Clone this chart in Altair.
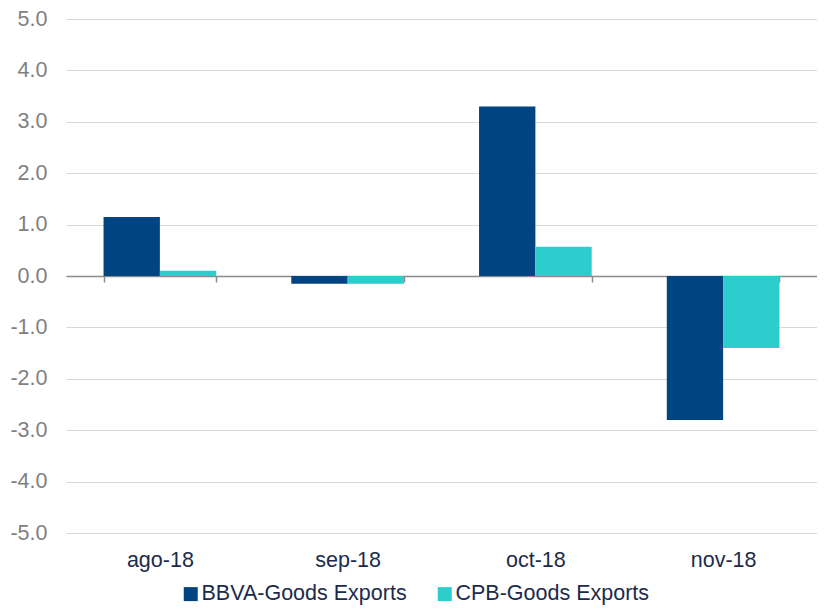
import altair as alt
import pandas as pd

months = ["ago-18", "sep-18", "oct-18", "nov-18"]
series = ["BBVA-Goods Exports", "CPB-Goods Exports"]
bbva = [1.15, -0.15, 3.30, -2.80]
cpb = [0.10, -0.15, 0.57, -1.40]
colors = ["#004481", "#2DCCCD"]
y_ticks = [-5, -4, -3, -2, -1, 0, 1, 2, 3, 4, 5]

rows = []
for m, a, b in zip(months, bbva, cpb):
    rows.append({"month": m, "series": series[0], "value": a})
    rows.append({"month": m, "series": series[1], "value": b})
df = pd.DataFrame(rows)

FONT = "Liberation Sans"
FS = 21.5

bars = alt.Chart(df).mark_bar().encode(
    x=alt.X(
        "month:N",
        sort=months,
        title=None,
        scale=alt.Scale(paddingInner=0.4, paddingOuter=0.2),
        axis=alt.Axis(
            orient="bottom",
            offset=-257,
            domain=True,
            domainColor="#8C8C8C",
            domainWidth=1.5,
            ticks=True,
            tickBand="extent",
            tickColor="#8C8C8C",
            tickWidth=1.5,
            tickSize=6,
            labelAngle=0,
            labelPadding=267,
            labelFont=FONT,
            labelFontSize=FS,
            labelColor="#1C2B4B",
            grid=False,
        ),
    ),
    xOffset=alt.XOffset("series:N", sort=series, scale=alt.Scale(paddingInner=0, paddingOuter=0)),
    y=alt.Y(
        "value:Q",
        title=None,
        scale=alt.Scale(domain=[-5, 5], nice=False, zero=False),
        axis=alt.Axis(
            values=y_ticks,
            domain=False,
            ticks=False,
            grid=True,
            gridColor="#D9D9D9",
            gridWidth=1,
            labelFont=FONT,
            labelFontSize=FS,
            labelColor="#7F7F7F",
            labelPadding=19,
            labelExpr="datum.value < 0 ? '-' + format(-datum.value, '.1f') : format(datum.value, '.1f')",
        ),
    ),
    color=alt.Color(
        "series:N",
        sort=series,
        scale=alt.Scale(domain=series, range=colors),
        legend=alt.Legend(
            title=None,
            orient="none",
            direction="horizontal",
            legendX=114,
            legendY=564,
            symbolType="square",
            symbolSize=196,
            symbolStrokeWidth=0,
            labelFont=FONT,
            labelFontSize=FS,
            labelColor="#1C2B4B",
            labelOffset=0,
            labelLimit=400,
            columnPadding=27,
            padding=0,
        ),
    ),
)

chart = bars.properties(
    width=751,
    height=514,
    background="white",
    autosize=alt.AutoSizeParams(type="none"),
    padding={"left": 58, "top": 11, "right": 0, "bottom": 75},
).configure_view(strokeWidth=0, stroke=None)

chart.save("out.html", embed_options={"renderer": "svg", "actions": False})
